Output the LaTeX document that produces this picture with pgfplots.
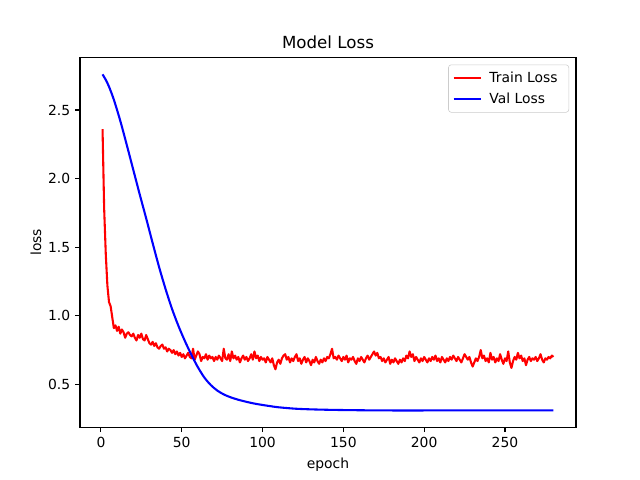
\documentclass[border=0pt]{standalone}
\usepackage{fontspec}
\setmainfont{DejaVu Sans}
\usepackage{pgfplots}
\usepackage{pgfplotstable}
\pgfplotsset{compat=1.18}
\pgfplotstableread{
e v
1 2.760
3 2.720
5 2.670
8 2.575
12 2.420
16 2.245
20 2.065
24 1.885
28 1.710
32 1.530
36 1.355
40 1.195
44 1.050
48 0.925
52 0.815
56 0.715
60 0.625
64 0.550
68 0.495
72 0.455
76 0.427
80 0.407
85 0.388
90 0.373
95 0.360
100 0.350
105 0.341
110 0.333
120 0.323
130 0.318
140 0.315
150 0.313
165 0.311
180 0.310
200 0.310
230 0.311
280 0.311
}\valtable
\pgfplotstableread{
e t
1 2.36
2 1.78
3 1.45
4 1.22
5 1.10
6 1.07
7 0.99
8 0.91
9 0.93
10 0.89
11 0.92
12 0.87
13 0.90
14 0.88
15 0.84
16 0.87
17 0.88
18 0.86
19 0.85
20 0.87
21 0.84
22 0.82
23 0.86
24 0.84
25 0.87
26 0.83
27 0.82
28 0.86
29 0.83
30 0.80
31 0.79
32 0.81
33 0.78
34 0.80
35 0.77
36 0.76
37 0.78
38 0.79
39 0.76
40 0.77
41 0.74
42 0.76
43 0.75
44 0.73
45 0.75
46 0.72
47 0.74
48 0.71
49 0.73
50 0.70
51 0.72
52 0.69
53 0.71
54 0.73
55 0.70
56 0.69
57 0.76
58 0.68
59 0.71
60 0.74
61 0.72
62 0.67
63 0.70
64 0.69
65 0.72
66 0.68
67 0.71
68 0.69
69 0.70
70 0.67
71 0.70
72 0.68
73 0.71
74 0.69
75 0.67
76 0.76
77 0.69
78 0.68
79 0.72
80 0.67
81 0.74
82 0.69
83 0.71
84 0.68
85 0.70
86 0.66
87 0.69
88 0.71
89 0.68
90 0.70
91 0.67
92 0.69
93 0.72
94 0.68
95 0.74
96 0.69
97 0.71
98 0.67
99 0.70
100 0.68
101 0.69
102 0.66
103 0.70
104 0.68
105 0.66
106 0.69
107 0.64
108 0.61
109 0.66
110 0.68
111 0.65
112 0.69
113 0.71
114 0.72
115 0.68
116 0.70
117 0.66
118 0.69
119 0.67
120 0.70
121 0.72
122 0.67
123 0.69
124 0.65
125 0.68
126 0.70
127 0.66
128 0.69
129 0.67
130 0.64
131 0.68
132 0.66
133 0.70
134 0.67
135 0.65
136 0.68
137 0.66
138 0.69
139 0.67
140 0.70
141 0.69
142 0.72
143 0.76
144 0.69
145 0.70
146 0.68
147 0.71
148 0.69
149 0.67
150 0.70
151 0.68
152 0.71
153 0.66
154 0.69
155 0.68
156 0.70
157 0.67
158 0.65
159 0.69
160 0.67
161 0.70
162 0.68
163 0.66
164 0.69
165 0.71
166 0.68
167 0.70
168 0.72
169 0.74
170 0.71
171 0.73
172 0.69
173 0.70
174 0.67
175 0.69
176 0.66
177 0.68
178 0.70
179 0.65
180 0.68
181 0.66
182 0.69
183 0.67
184 0.65
185 0.68
186 0.66
187 0.69
188 0.67
189 0.71
190 0.69
191 0.74
192 0.70
193 0.72
194 0.67
195 0.70
196 0.68
197 0.66
198 0.69
199 0.67
200 0.70
201 0.68
202 0.66
203 0.69
204 0.67
205 0.70
206 0.68
207 0.71
208 0.67
209 0.69
210 0.66
211 0.70
212 0.68
213 0.66
214 0.69
215 0.67
216 0.70
217 0.68
218 0.71
219 0.69
220 0.67
221 0.70
222 0.68
223 0.66
224 0.69
225 0.72
226 0.70
227 0.68
228 0.70
229 0.66
230 0.63
231 0.66
232 0.69
233 0.67
234 0.70
235 0.75
236 0.69
237 0.71
238 0.67
239 0.69
240 0.66
241 0.73
242 0.68
243 0.70
244 0.66
245 0.69
246 0.67
247 0.72
248 0.68
249 0.65
250 0.69
251 0.67
252 0.74
253 0.66
254 0.62
255 0.67
256 0.70
257 0.68
258 0.73
259 0.69
260 0.71
261 0.67
262 0.69
263 0.64
264 0.68
265 0.70
266 0.67
267 0.69
268 0.68
269 0.70
270 0.67
271 0.69
272 0.72
273 0.68
274 0.66
275 0.69
276 0.68
277 0.70
278 0.69
279 0.71
280 0.70
}\traintable
\begin{document}
\fontsize{10}{12}\selectfont
\begin{tikzpicture}
\begin{axis}[
  scale only axis,
  width=357.12pt, height=266.11pt,
  xmin=-12.95, xmax=293.95,
  ymin=0.188, ymax=2.882,
  xtick={0,50,100,150,200,250},
  ytick={0.5,1.0,1.5,2.0,2.5},
  yticklabel style={/pgf/number format/.cd,fixed,fixed zerofill,precision=1},
  /pgf/number format/assume math mode=true,
  tick pos=left,
  tick align=outside,
  major tick length=3.5pt,
  every tick/.style={black, line width=0.8pt},
  axis line style={line width=0.8pt},
  ticklabel style={font=\fontsize{10}{12}\selectfont},
  xticklabel style={yshift=-0.5pt},
  title={Model Loss},
  title style={font=\fontsize{12}{14}\selectfont, yshift=-3pt},
  xlabel={epoch},
  ylabel={loss},
  ylabel style={yshift=-2pt},
  label style={font=\fontsize{10}{12}\selectfont},
  legend style={at={(1,1)}, anchor=north east, xshift=-5pt, yshift=-5pt,
    draw={rgb,1:red,0.8;green,0.8;blue,0.8}, rounded corners=2pt,
    fill=white, fill opacity=0.8, text opacity=1,
    font=\fontsize{10}{12}\selectfont, inner xsep=3pt, inner ysep=3pt, row sep=2pt,
    nodes={inner xsep=5pt}},
  legend cell align=left,
  legend image code/.code={\draw[#1, line width=1.5pt] (0pt,0pt) -- (20pt,0pt);},
]
\addplot[color={rgb,1:red,1;green,0;blue,0}, line width=1.5pt, line join=round] table[x=e,y=t] {\traintable};
\addlegendentry{Train Loss}
\addplot[color={rgb,1:red,0;green,0;blue,1}, line width=1.5pt, smooth, tension=0.5] table[x=e,y=v] {\valtable};
\addlegendentry{Val Loss}
\end{axis}
\pgfresetboundingbox
\path (-57.6pt,-38.02pt) rectangle (403.2pt,307.58pt);
\end{tikzpicture}
\end{document}
